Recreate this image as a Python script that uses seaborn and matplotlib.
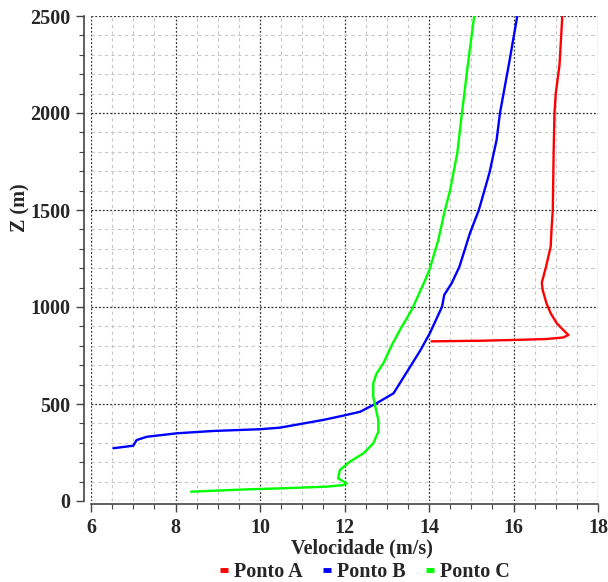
import numpy as np
import pandas as pd
import matplotlib
matplotlib.use("Agg")
import matplotlib.pyplot as plt
import seaborn as sns
from matplotlib.ticker import MultipleLocator

# ---- data ----
series_names = ["Ponto A", "Ponto B", "Ponto C"]
colors = ["#ff0000", "#0000ff", "#00ff00"]

vel_a = [14.06, 15.2, 16.0, 16.78, 17.18, 17.30, 17.18, 17.02, 16.88, 16.78, 16.69, 16.67,
         16.77, 16.88, 16.90, 16.93, 16.95, 16.97, 17.0, 17.09, 17.155]
z_a = [823, 826, 830, 835, 843, 856, 881, 917, 968, 1019, 1088, 1125,
       1208, 1311, 1400, 1500, 1800, 2000, 2100, 2250, 2500]

vel_b = [6.53, 7.0, 7.08, 7.32, 8.03, 8.90, 10.0, 10.47, 11.5, 11.97, 12.37, 12.76, 13.16,
         13.31, 13.80, 14.02, 14.31, 14.36, 14.54, 14.72, 14.97, 15.18, 15.43, 15.60,
         15.68, 15.89, 16.09]
z_b = [272, 285, 314, 331, 349, 361, 370, 378, 418, 440, 460, 504, 555,
       607, 778, 865, 1002, 1062, 1124, 1208, 1381, 1500, 1691, 1861,
       2000, 2250, 2500]

vel_c = [8.37, 9.69, 10.47, 11.58, 11.97, 12.05, 11.85, 11.89, 12.13, 12.45, 12.68, 12.80,
         12.80, 12.72, 12.68, 12.68, 12.76, 12.92, 13.12, 13.31, 13.59, 13.91, 14.01,
         14.22, 14.36, 14.50, 14.67, 14.78, 14.92, 15.07]
z_c = [48, 60, 65, 74, 82, 91, 117, 160, 203, 246, 297, 357,
       418, 495, 538, 607, 658, 710, 804, 881, 985, 1139, 1191,
       1345, 1484, 1603, 1794, 2000, 2250, 2500]

x_ticks = [6, 8, 10, 12, 14, 16, 18]
y_ticks = [0, 500, 1000, 1500, 2000, 2500]

df = pd.concat([
    pd.DataFrame({"Velocidade": vel_a, "Z": z_a, "serie": series_names[0]}),
    pd.DataFrame({"Velocidade": vel_b, "Z": z_b, "serie": series_names[1]}),
    pd.DataFrame({"Velocidade": vel_c, "Z": z_c, "serie": series_names[2]}),
], ignore_index=True)

sns.set_style("white")
plt.rcParams["font.family"] = ["Liberation Serif", "DejaVu Serif"]
plt.rcParams["font.weight"] = "bold"
FS = 14.5

fig = plt.figure(figsize=(6.08, 5.82), dpi=100)
ax = fig.add_axes([91/608, 1 - 501/582, (598 - 91)/608, (501 - 16)/582])

sns.lineplot(data=df, x="Velocidade", y="Z", hue="serie", palette=colors,
             sort=False, estimator=None, orient="y", linewidth=1.7, ax=ax, legend=True)

ax.set_xlim(6, 18)
ax.set_ylim(0, 2500)
ax.set_xticks(x_ticks)
ax.set_yticks(y_ticks)
ax.xaxis.set_minor_locator(MultipleLocator(0.5))
ax.yaxis.set_minor_locator(MultipleLocator(100))

ax.grid(which="minor", color="#c8c8c8", linestyle=(0, (3, 3)), linewidth=0.8)
ax.grid(which="major", color="#333333", linestyle=(0, (1.5, 1.5)), linewidth=0.9)
ax.set_axisbelow(True)

for s in ["top", "right"]:
    ax.spines[s].set_visible(False)
ax.spines["left"].set_position(("outward", 5))
ax.spines["bottom"].set_position(("outward", 2))
for s in ["left", "bottom"]:
    ax.spines[s].set_color("#444444")
    ax.spines[s].set_linewidth(1.2)

ax.tick_params(which="major", direction="out", length=6, width=1, color="#444444",
               labelsize=FS, left=True, bottom=True)
ax.tick_params(axis="x", which="major", pad=4)
ax.tick_params(axis="y", which="major", pad=4)
ax.tick_params(which="minor", direction="out", length=3.5, width=0.8, color="#444444",
               left=True, bottom=True)
for lab in ax.get_xticklabels() + ax.get_yticklabels():
    lab.set_fontweight("bold")

ax.set_xlabel("Velocidade (m/s)", fontsize=FS, fontweight="bold")
ax.set_ylabel("Z (m)", fontsize=FS, fontweight="bold")
ax.xaxis.set_label_coords((362 - 91) / 507, (501 - 548) / 485)
ax.xaxis.label.set_va("center")
ax.yaxis.set_label_coords((20 - 91) / 507, (501 - 208) / 485)
ax.yaxis.label.set_va("center")

handles, labels = ax.get_legend_handles_labels()
ax.get_legend().remove()
leg = fig.legend(handles, labels, loc="center", bbox_to_anchor=(365 / 608, 1 - 572 / 582),
                 ncol=3, frameon=False, handlelength=0.4, handletextpad=0.3,
                 columnspacing=1.0, borderpad=0,
                 prop={"family": "Liberation Serif", "weight": "bold", "size": FS})
for h in leg.get_lines():
    h.set_linewidth(3.5)
    h.set_solid_capstyle("butt")

fig.savefig("out.png", dpi=100)
